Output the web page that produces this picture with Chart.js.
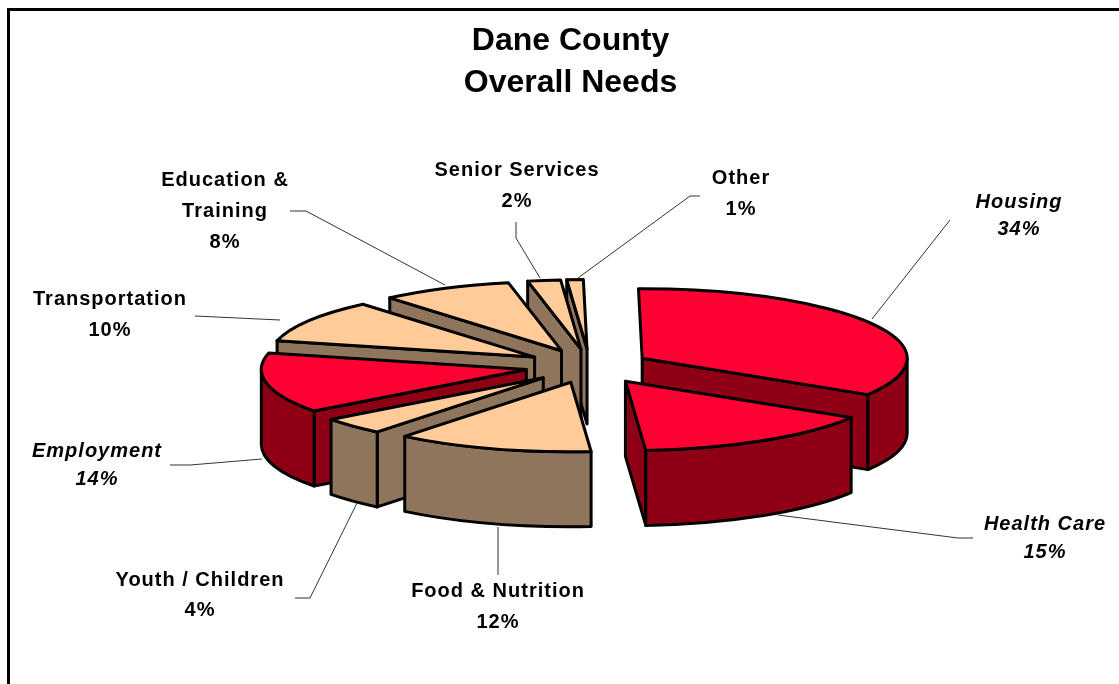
<!DOCTYPE html>
<html>
<head>
<meta charset="utf-8">
<title>Dane County Overall Needs</title>
<script src="https://cdn.jsdelivr.net/npm/chart.js@4"></script>
<style>
  html, body { margin: 0; padding: 0; background: #fff; }
  canvas { display: block; }
</style>
</head>
<body>
<canvas id="needs" width="1119" height="684"></canvas>
<script>
const categories = ['Housing', 'Health Care', 'Food & Nutrition', 'Youth / Children', 'Employment', 'Transportation', 'Education & Training', 'Senior Services', 'Other'];
const percents = [34, 15, 12, 4, 14, 10, 8, 2, 1];
const titleLines = ['Dane County', 'Overall Needs'];
const topColors = ['#ff0033', '#ff0033', '#ffcc99', '#ffcc99', '#ff0033', '#ffcc99', '#ffcc99', '#ffcc99', '#ffcc99'];
const wallColors = ['#900014', '#900014', '#8e755c', '#8e755c', '#900014', '#8e755c', '#8e755c', '#8e755c', '#8e755c'];
const italicLabels = ['Housing', 'Health Care', 'Employment'];
const explode = [60, 68, 65, 65, 65, 65, 65, 65, 65];

// where each label sits and how its leader line runs, same order as categories
const labelBoxes = [
    { x: 1019, y: [202, 229], lines: ['Housing'], leader: [[950, 220], [872, 319]] },
    { x: 1045, y: [524, 552], lines: ['Health Care'], leader: [[973, 538], [958, 538], [778, 515]] },
    { x: 498, y: [591, 622], lines: ['Food & Nutrition'], leader: [[498, 575], [498, 527]] },
    { x: 200, y: [580, 610], lines: ['Youth / Children'], leader: [[295, 598], [310, 598], [357, 503]] },
    { x: 97, y: [451, 479], lines: ['Employment'], leader: [[170, 465], [190, 465], [262, 459]] },
    { x: 110, y: [299, 330], lines: ['Transportation'], leader: [[195, 316], [280, 320]] },
    { x: 225, y: [180, 211, 242], lines: ['Education &', 'Training'], leader: [[290, 211], [306, 211], [445, 285]] },
    { x: 517, y: [170, 201], lines: ['Senior Services'], leader: [[516, 222], [516, 238], [540, 278]] },
    { x: 741, y: [178, 209], lines: ['Other'], leader: [[700, 196], [690, 196], [578, 278]] }
];

const pieX = 590;
const pieY = 366;
const squash = 0.262;
const depth = 75;

function drawSlice(ctx, arc, top, wall) {
    const { startAngle, endAngle, outerRadius: r } = arc;
    const mid = (startAngle + endAngle) / 2;
    const ox = pieX + Math.cos(mid) * arc.options.offset;
    const oy = pieY + Math.sin(mid) * arc.options.offset * squash;
    const at = (a, z) => [ox + Math.cos(a) * r, oy + Math.sin(a) * r * squash + z];

    ctx.strokeStyle = '#000';
    ctx.lineWidth = 3;
    ctx.lineJoin = 'round';

    const quad = angle => {
        const p = at(angle, 0);
        ctx.beginPath();
        ctx.moveTo(ox, oy);
        ctx.lineTo(p[0], p[1]);
        ctx.lineTo(p[0], p[1] + depth);
        ctx.lineTo(ox, oy + depth);
        ctx.closePath();
        ctx.fillStyle = wall;
        ctx.fill();
        ctx.stroke();
    };
    if (Math.cos(startAngle) < -0.05) quad(startAngle);
    if (Math.cos(endAngle) > 0.05) quad(endAngle);

    // outer wall, only the part that faces the viewer
    const from = Math.max(startAngle, 0);
    const to = Math.min(endAngle, Math.PI);
    if (to > from) {
        ctx.beginPath();
        ctx.ellipse(ox, oy, r, r * squash, 0, from, to);
        ctx.ellipse(ox, oy + depth, r, r * squash, 0, to, from, true);
        ctx.closePath();
        ctx.fillStyle = wall;
        ctx.fill();
        ctx.stroke();
    }

    ctx.beginPath();
    ctx.moveTo(ox, oy);
    ctx.ellipse(ox, oy, r, r * squash, 0, startAngle, endAngle);
    ctx.closePath();
    ctx.fillStyle = top;
    ctx.fill();
    ctx.stroke();
}

function drawLabels(ctx) {
    ctx.textAlign = 'center';
    ctx.textBaseline = 'middle';
    ctx.fillStyle = '#000';
    ctx.letterSpacing = '1px';
    categories.forEach((name, i) => {
        const box = labelBoxes[i];
        const style = italicLabels.includes(name) ? 'italic ' : '';
        ctx.font = style + 'bold 20px "Liberation Sans"';
        const text = box.lines.concat(percents[i] + '%');
        text.forEach((t, j) => ctx.fillText(t, box.x, box.y[j]));

        ctx.beginPath();
        box.leader.forEach((p, j) => j ? ctx.lineTo(p[0], p[1]) : ctx.moveTo(p[0], p[1]));
        ctx.strokeStyle = '#333';
        ctx.lineWidth = 1;
        ctx.stroke();
    });
    ctx.letterSpacing = '0px';
}

const solidPie = {
    id: 'solidPie',
    beforeDatasetsDraw(chart) {
        const ctx = chart.ctx;
        const arcs = chart.getDatasetMeta(0).data;
        ctx.save();
        ctx.strokeStyle = '#000';
        ctx.lineWidth = 3;
        ctx.strokeRect(8.5, 9.5, 1200, 800);

        // back slices first so the front ones cover them
        const order = arcs.map((arc, i) => i).sort((a, b) => {
            const m = arc => (arc.startAngle + arc.endAngle) / 2;
            return Math.sin(m(arcs[a])) - Math.sin(m(arcs[b]));
        });
        order.forEach(i => drawSlice(ctx, arcs[i], topColors[i], wallColors[i]));
        drawLabels(ctx);
        ctx.restore();
        return false;
    }
};

new Chart(document.getElementById('needs'), {
    type: 'pie',
    data: {
        labels: categories,
        datasets: [{
            data: percents,
            backgroundColor: topColors,
            borderWidth: 0,
            offset: explode
        }]
    },
    options: {
        responsive: false,
        animation: false,
        radius: 265,
        rotation: -0.8,
        layout: { padding: { left: 22 } },
        plugins: {
            legend: { display: false },
            tooltip: { enabled: false },
            title: {
                display: true,
                text: titleLines,
                color: '#000',
                font: { family: '"Liberation Sans"', size: 32, weight: 'bold', lineHeight: 1.31 },
                padding: { top: 20, bottom: 10 }
            }
        }
    },
    plugins: [solidPie]
});
</script>
</body>
</html>
